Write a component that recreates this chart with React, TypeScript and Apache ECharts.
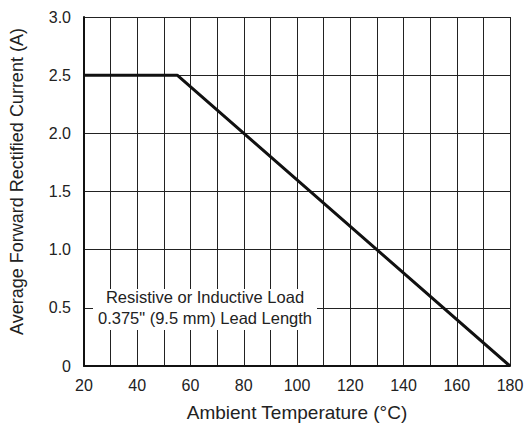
import React, { useEffect, useRef } from "react";
import * as echarts from "echarts";

const temperatures = [20, 55, 180];
const currents = [2.5, 2.5, 0];
const noteLines = ["Resistive or Inductive Load", "0.375\" (9.5 mm) Lead Length"];
const xAxisTitle = "Ambient Temperature (°C)";
const yAxisTitle = "Average Forward Rectified Current (A)";

export default function App() {
  const ref = useRef<HTMLDivElement>(null);
  useEffect(() => {
    document.body.style.margin = "0";
    const chart = echarts.init(ref.current!, null, { renderer: "svg" });
    const font = "'Liberation Sans', Arial, Helvetica, sans-serif";
    const noteStyle = {
      fontSize: 16.5,
      fill: "#222",
      fontFamily: font,
      textAlign: "center",
      textVerticalAlign: "middle",
    };
    chart.setOption({
      animation: false,
      backgroundColor: "#ffffff",
      textStyle: { fontFamily: font },
      grid: { left: 84, right: 15, top: 17, bottom: 57, containLabel: false, outerBoundsMode: "none" },
      xAxis: {
        type: "value",
        min: 20,
        max: 180,
        interval: 20,
        name: xAxisTitle,
        nameLocation: "middle",
        nameGap: 37,
        nameTextStyle: { fontSize: 19, color: "#222", fontFamily: font },
        axisLine: { show: true, onZero: false, lineStyle: { color: "#111", width: 2 } },
        axisTick: { show: false },
        axisLabel: { fontSize: 16, color: "#222", margin: 11, fontFamily: font },
        splitLine: { show: true, lineStyle: { color: "#222", width: 1 } },
        minorTick: { show: false, splitNumber: 2 },
        minorSplitLine: { show: true, lineStyle: { color: "#222", width: 1 } },
      },
      yAxis: {
        type: "value",
        min: 0,
        max: 3,
        interval: 0.5,
        name: yAxisTitle,
        nameLocation: "middle",
        nameGap: 58,
        nameTextStyle: { fontSize: 18, color: "#222", fontFamily: font, padding: [0, 0, 0, 20] },
        axisLine: { show: true, lineStyle: { color: "#111", width: 2 } },
        axisTick: { show: false },
        axisLabel: {
          fontSize: 16,
          color: "#222",
          margin: 13,
          fontFamily: font,
          formatter: (v: number) => (v === 0 ? "0" : v.toFixed(1)),
        },
        splitLine: { show: true, lineStyle: { color: "#222", width: 1 } },
      },
      series: [
        {
          type: "line",
          data: temperatures.map((t, i) => [t, currents[i]]),
          symbol: "none",
          lineStyle: { color: "#111", width: 3 },
          z: 5,
        },
      ],
      graphic: [
        {
          type: "rect",
          shape: { x: 93, y: 289, width: 224, height: 41 },
          style: { fill: "#ffffff" },
          z: 10,
        },
        { type: "text", x: 205, y: 297, style: { ...noteStyle, text: noteLines[0] }, z: 11 },
        { type: "text", x: 205, y: 318, style: { ...noteStyle, text: noteLines[1] }, z: 11 },
      ],
    });
    return () => chart.dispose();
  }, []);
  return <div ref={ref} style={{ width: 525, height: 423 }} />;
}
